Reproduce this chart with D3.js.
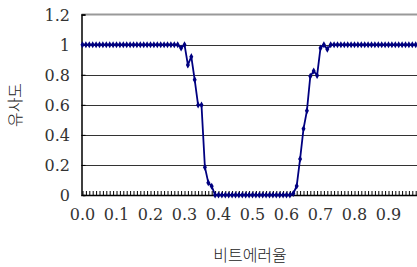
<!DOCTYPE html>
<html>
<head>
<meta charset="utf-8">
<script src="https://cdn.jsdelivr.net/npm/d3@7"></script>
<style>
  body { margin: 0; background: #fff; }
  svg { display: block; }
  .num { font-family: "DejaVu Serif", "Liberation Serif", serif; font-size: 16px; fill: #333; }
  .kor { font-family: "Noto Sans CJK KR", sans-serif; font-size: 16px; font-weight: 300; fill: #222; }
</style>
</head>
<body>
<div id="chart"></div>
<script>
// bit error rate categories (0.00 .. 0.99)
const errRates = d3.range(100).map(i => +(i / 100).toFixed(2));
const xLabels = ['0.0', '0.1', '0.2', '0.3', '0.4', '0.5', '0.6', '0.7', '0.8', '0.9'];
const yTicks = [0, 0.2, 0.4, 0.6, 0.8, 1, 1.2];
// similarity
const similarity = [
  1, 1, 1, 1, 1, 1, 1, 1, 1, 1,
  1, 1, 1, 1, 1, 1, 1, 1, 1, 1,
  1, 1, 1, 1, 1, 1, 1, 1, 1, 0.978,
  1, 0.865, 0.92, 0.766, 0.598, 0.598, 0.185, 0.082, 0.058, 0,
  0, 0, 0, 0, 0, 0, 0, 0, 0, 0,
  0, 0, 0, 0, 0, 0, 0, 0, 0, 0,
  0, 0, 0.01, 0.06, 0.24, 0.44, 0.56, 0.79, 0.825, 0.795,
  0.978, 1, 0.97, 1, 1, 1, 1, 1, 1, 1,
  1, 1, 1, 1, 1, 1, 1, 1, 1, 1,
  1, 1, 1, 1, 1, 1, 1, 1, 1, 1
];

const w = 417, h = 267;
const padLeft = 81.5, padTop = 14.6, padBottom = 195;
const step = 3.4;

const svg = d3.select('#chart').append('svg')
  .attr('width', w).attr('height', h);

const xScale = d3.scaleLinear()
  .domain([0, 0.99])
  .range([padLeft + 1, padLeft + 1 + 99 * step]);
const yScale = d3.scaleLinear()
  .domain([0, 1.2])
  .range([padBottom, padTop]);

// gridlines
svg.append('g')
  .selectAll('line')
  .data(yTicks.filter(d => d > 0 && d < 1.2))
  .enter().append('line')
  .attr('x1', padLeft).attr('x2', w)
  .attr('y1', d => Math.round(yScale(d)) + 0.5)
  .attr('y2', d => Math.round(yScale(d)) + 0.5)
  .attr('stroke', '#333').attr('stroke-width', 1);

// top border
svg.append('line')
  .attr('x1', padLeft).attr('x2', w)
  .attr('y1', yScale(1.2)).attr('y2', yScale(1.2))
  .attr('stroke', '#999').attr('stroke-width', 2);

// y axis
const yAxis = svg.append('g')
  .attr('transform', `translate(${padLeft}, 0)`)
  .call(d3.axisRight(yScale).tickValues(yTicks).tickSize(4).tickFormat(''));
yAxis.select('.domain').attr('stroke', '#000').attr('stroke-width', 1.5);
yAxis.selectAll('.tick line').attr('stroke', '#000');

svg.append('g')
  .selectAll('text')
  .data(yTicks)
  .enter().append('text')
  .attr('class', 'num')
  .attr('x', 70)
  .attr('y', d => yScale(d) + 6)
  .attr('text-anchor', 'end')
  .text(d => d3.format('~g')(d));

// x axis with a tick at every category
const xAxis = svg.append('g')
  .attr('transform', `translate(0, ${padBottom})`)
  .call(d3.axisTop(xScale).tickValues(errRates).tickSize(4).tickFormat('').tickSizeOuter(0));
xAxis.select('.domain').attr('stroke', '#000').attr('stroke-width', 1.5);
xAxis.selectAll('.tick line').attr('stroke', '#000');

svg.append('g')
  .selectAll('text')
  .data(xLabels)
  .enter().append('text')
  .attr('class', 'num')
  .attr('x', d => xScale(+d))
  .attr('y', 220)
  .attr('text-anchor', 'middle')
  .text(d => d);

// series
const pts = errRates.map((r, i) => ({ r, v: similarity[i] }));
svg.append('path')
  .datum(pts)
  .attr('fill', 'none')
  .attr('stroke', '#000080')
  .attr('stroke-width', 1.8)
  .attr('d', d3.line().x(d => xScale(d.r)).y(d => yScale(d.v)));

svg.append('g')
  .selectAll('path')
  .data(pts)
  .enter().append('path')
  .attr('transform', d => `translate(${xScale(d.r)}, ${yScale(d.v)})`)
  .attr('d', d3.symbol(d3.symbolDiamond, 14)())
  .attr('fill', '#000080');

// axis titles
svg.append('text')
  .attr('class', 'kor')
  .attr('x', 250).attr('y', 261)
  .attr('text-anchor', 'middle')
  .text('비트에러율');

svg.append('text')
  .attr('class', 'kor')
  .attr('transform', 'translate(21, 105) rotate(-90)')
  .attr('text-anchor', 'middle')
  .text('유사도');
</script>
</body>
</html>
